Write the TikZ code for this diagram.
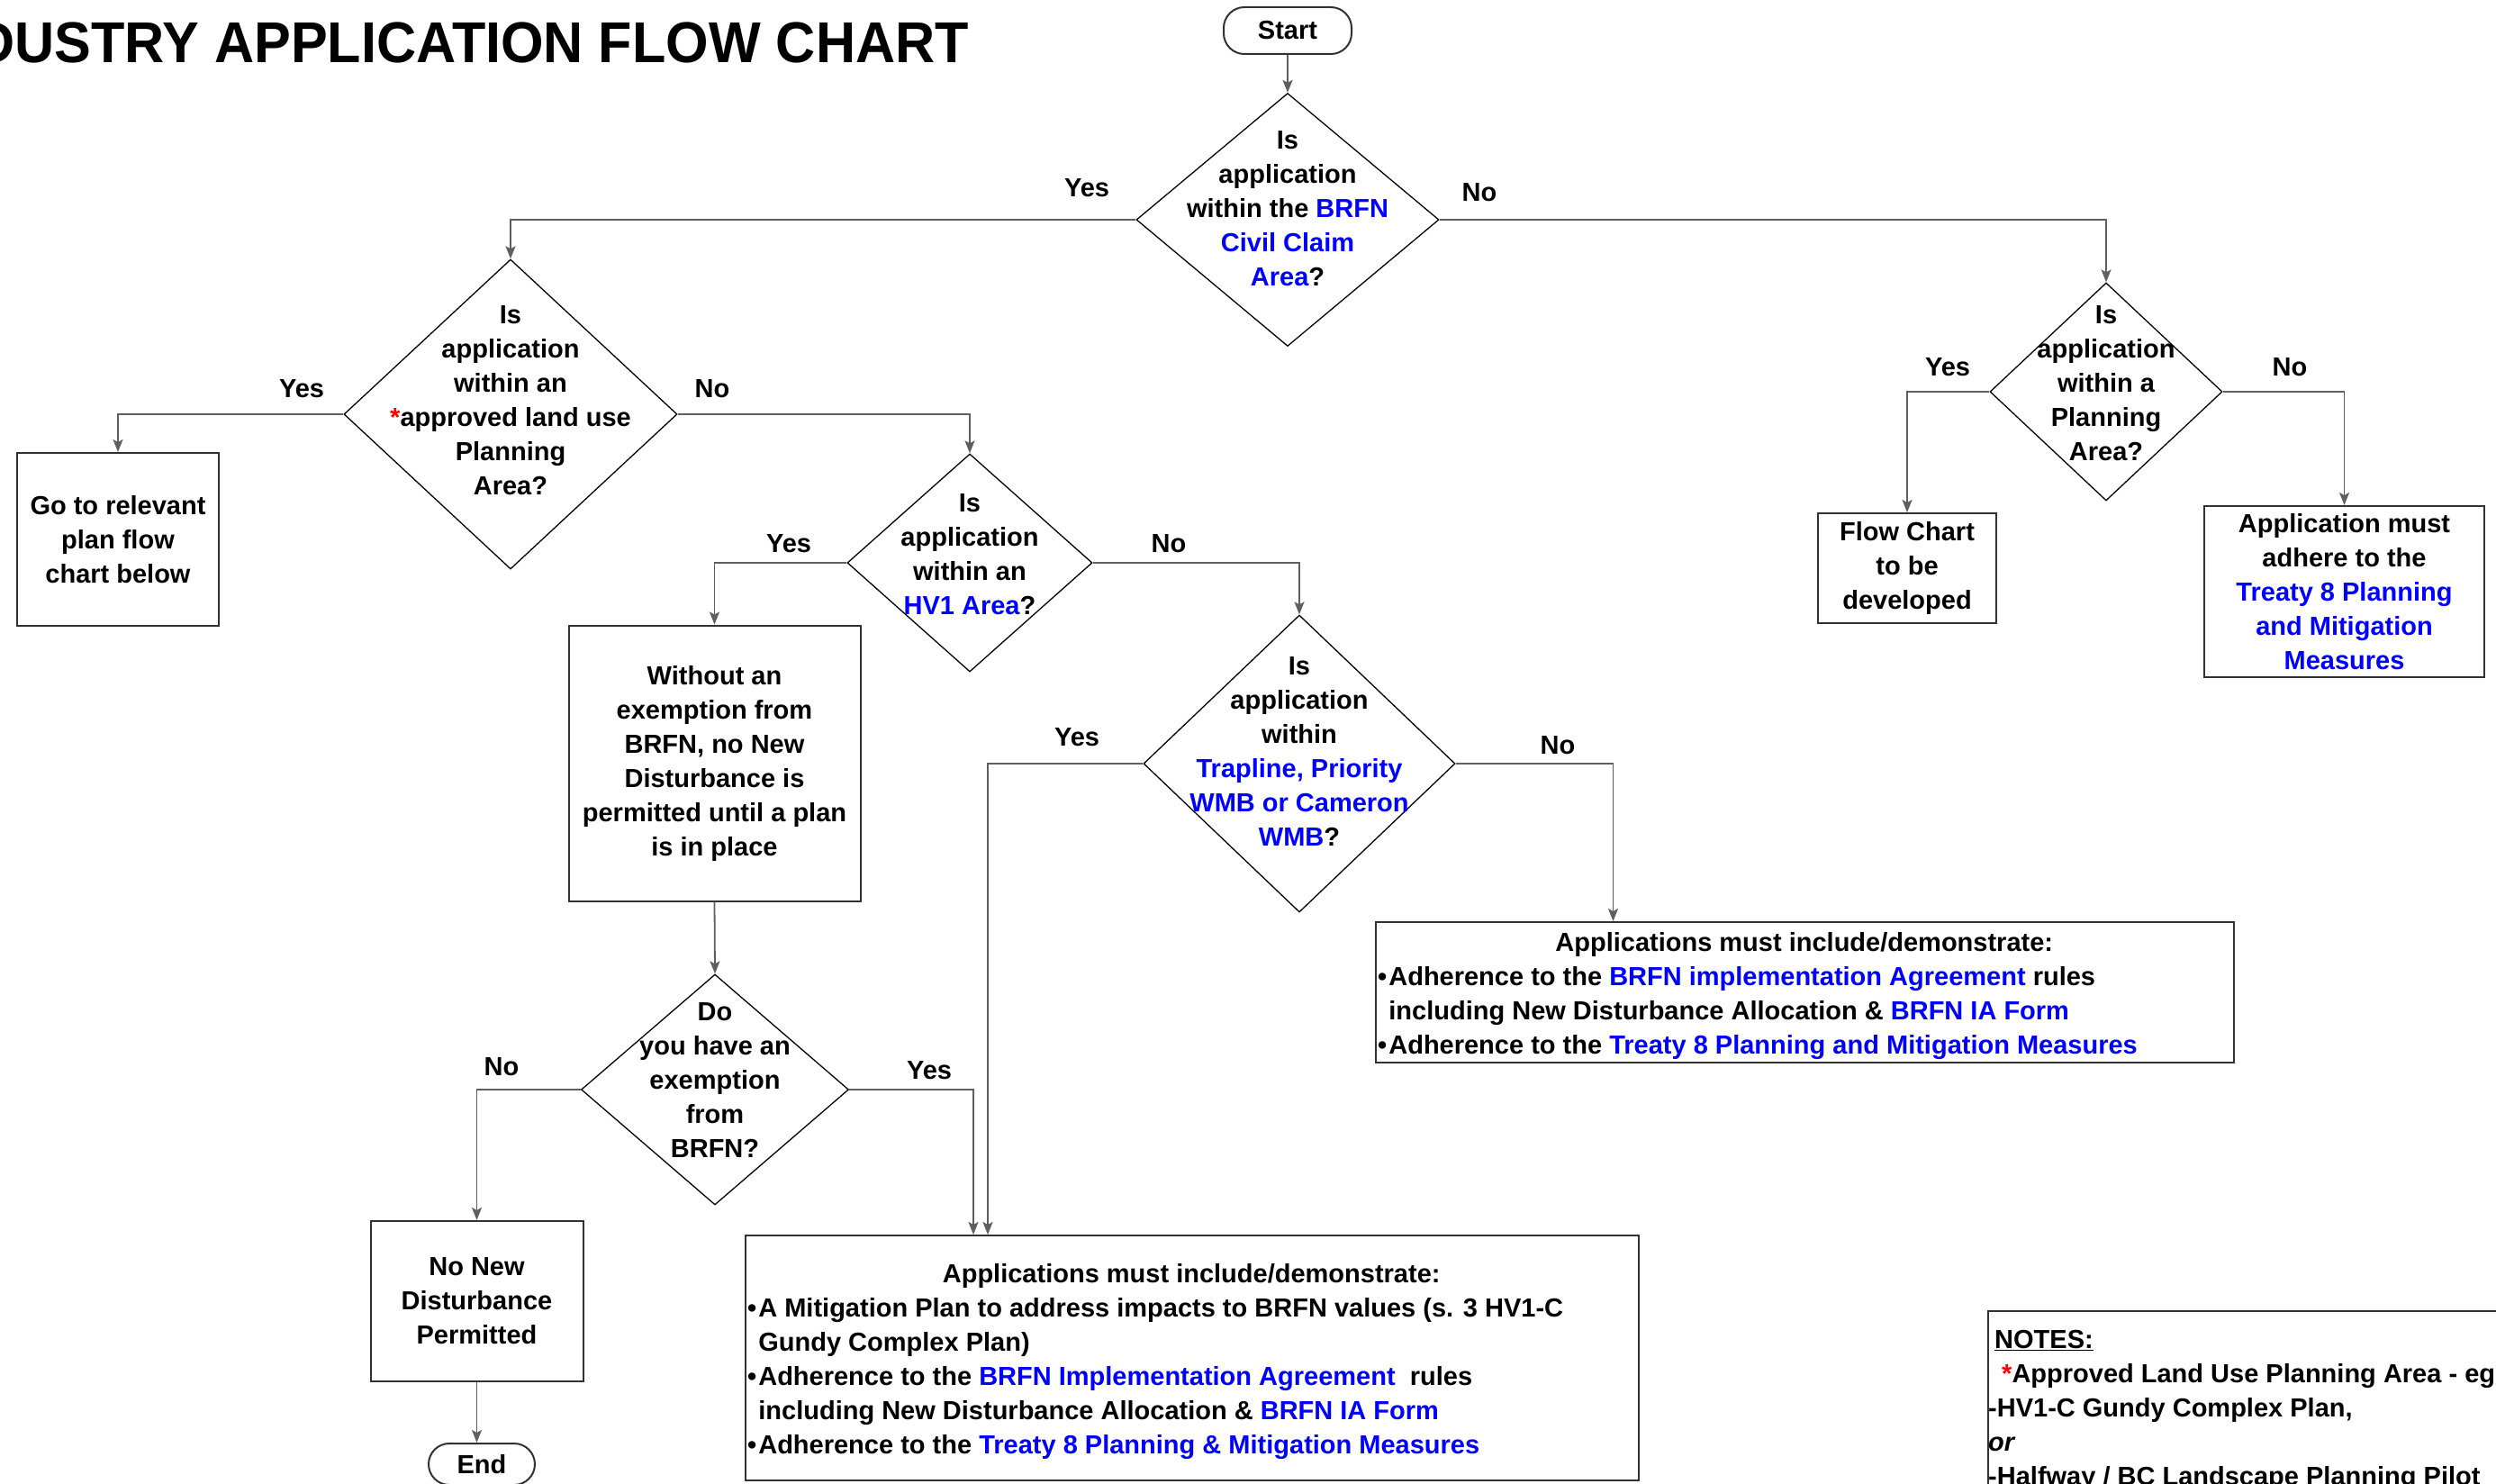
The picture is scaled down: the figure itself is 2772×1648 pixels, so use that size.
\documentclass[tikz,border=0pt]{standalone}
\usepackage{fontspec}
\setmainfont{Liberation Sans}
\usepackage{graphicx}
\usetikzlibrary{arrows.meta,shapes.geometric}
\definecolor{lnk}{RGB}{0,0,255}
\definecolor{ast}{RGB}{255,0,0}
\definecolor{conn}{RGB}{95,95,95}
\definecolor{frame}{RGB}{50,50,50}
\newcommand{\bl}[1]{\textcolor{lnk}{#1}}
\newcommand{\rs}{\textcolor{ast}{*}}
\newcommand{\bul}{\kern2pt•\kern2pt}
\newcommand{\nobul}{\hphantom{\kern2pt•\kern2pt}}
\begin{document}
\begin{tikzpicture}[x=1pt,y=-1pt,
  every node/.style={font=\bfseries\fontsize{29pt}{38pt}\selectfont},
  dia/.style={draw=black, line width=1.3pt, shape=diamond, inner sep=0pt},
  box/.style={draw=frame, line width=2pt, rectangle, inner sep=0pt, align=center},
  term/.style={draw=frame, line width=2pt, rectangle, rounded corners=23pt, inner sep=0pt},
  txt/.style={align=center, inner sep=0pt},
  lbl/.style={inner sep=0pt},
  arr/.style={draw=conn, line width=1.8pt, -{Stealth[length=14pt,width=11pt,inset=3pt]}},
]
\useasboundingbox (0,0) rectangle (2772,1648);

% title
\node[anchor=base east, inner sep=0pt, font=\bfseries\fontsize{64pt}{70pt}\selectfont] (title) at (1076,70)
  {\scalebox{0.955}[1]{INDUSTRY APPLICATION FLOW CHART}};

% terminals
\node[term, minimum width=142pt, minimum height=52pt] (start) at (1430,34) {Start};
\node[term, minimum width=118pt, minimum height=46pt] (end) at (535,1626) {End};

% diamonds
\node[dia, minimum width=336pt, minimum height=281pt] (d1) at (1430,244) {};
\node[txt] (d1t) at ([yshift=12pt]d1.center) {Is\\application\\within the \bl{BRFN}\\\bl{Civil Claim}\\\bl{Area}?};

\node[dia, minimum width=370pt, minimum height=344pt] (d2) at (567,460) {};
\node[txt] (d2t) at ([yshift=15pt]d2.center) {Is\\application\\within an\\\rs approved land use\\Planning\\Area?};

\node[dia, minimum width=272pt, minimum height=242pt] (d3) at (1077,625) {};
\node[txt] (d3t) at ([yshift=9pt]d3.center) {Is\\application\\within an\\\bl{HV1 Area}?};

\node[dia, minimum width=346pt, minimum height=330pt] (d4) at (1443,848) {};
\node[txt] (d4t) at ([yshift=13pt]d4.center) {Is\\application\\within\\\bl{Trapline, Priority}\\\bl{WMB or Cameron}\\\bl{WMB}?};

\node[dia, minimum width=258pt, minimum height=242pt] (d5) at (2339,435) {};
\node[txt] (d5t) at ([yshift=9pt]d5.center) {Is\\application\\within a\\Planning\\Area?};

\node[dia, minimum width=297pt, minimum height=256pt] (d6) at (794,1210) {};
\node[txt] (d6t) at ([yshift=10pt]d6.center) {Do\\you have an\\exemption\\from\\BRFN?};

% boxes
\node[box, minimum width=224pt, minimum height=192pt] (go) at (131,599) {Go to relevant\\plan flow\\chart below};
\node[box, minimum width=324pt, minimum height=306pt] (wo) at (793.5,847.5) {Without an\\exemption from\\BRFN, no New\\Disturbance is\\permitted until a plan\\is in place};
\node[box, minimum width=236pt, minimum height=178pt] (nnd) at (529.5,1445) {No New\\Disturbance\\Permitted};
\node[box, minimum width=198pt, minimum height=122pt] (fc) at (2118,631) {Flow Chart\\to be\\developed};
\node[box, minimum width=311pt, minimum height=190pt] (am) at (2603.5,657) {Application must\\adhere to the\\\bl{Treaty 8 Planning}\\\bl{and Mitigation}\\\bl{Measures}};

\node[box, minimum width=953pt, minimum height=156pt] (rm) at (2004.5,1102) {};
\node[txt, align=left, anchor=west] (rmt) at ([xshift=1pt,yshift=-4pt]rm.west)
  {\makebox[951pt][c]{Applications must include/demonstrate:}\\
   \bul Adherence to the \bl{BRFN implementation Agreement} rules\\
   \nobul including New Disturbance Allocation \& \bl{BRFN IA Form}\\
   \bul Adherence to the \bl{Treaty 8 Planning and Mitigation Measures}};

\node[box, minimum width=992pt, minimum height=272pt] (bot) at (1324,1508) {};
\node[txt, align=left, anchor=west] (bott) at ([xshift=1pt,yshift=-4pt]bot.west)
  {\makebox[990pt][c]{Applications must include/demonstrate:}\\
   \bul A Mitigation Plan to address impacts to BRFN values (s. 3 HV1-C\\
   \nobul Gundy Complex Plan)\\
   \bul Adherence to the \bl{BRFN Implementation Agreement}\ \ rules\\
   \nobul including New Disturbance Allocation \& \bl{BRFN IA Form}\\
   \bul Adherence to the \bl{Treaty 8 Planning \& Mitigation Measures}};

% notes
\node[box, anchor=north west, minimum width=700pt, minimum height=300pt] (notes) at (2207,1455) {};
\node[txt, align=left, anchor=north west] (notest) at (2208,1477)
  {\hspace*{7pt}\underline{NOTES:}\\
   \hspace*{15pt}\rs Approved Land Use Planning Area - eg\\
   -HV1-C Gundy Complex Plan,\\
   \textit{or}\\
   -Halfway / BC Landscape Planning Pilot};

% connectors
\draw[arr] (start.south) -- (d1.north);
\draw[arr] (d1.west) -| (d2.north);
\draw[arr] (d1.east) -| (d5.north);
\draw[arr] (d2.west) -| (go.north);
\draw[arr] (d2.east) -| (d3.north);
\draw[arr] (d3.west) -| (wo.north);
\draw[arr] (d3.east) -| (d4.north);
\coordinate (b4) at ([xshift=-227pt]bot.north);
\draw[arr] (d4.west) -| (b4);
\coordinate (r4) at ([xshift=-213pt]rm.north);
\draw[arr] (d4.east) -| (r4);
\draw[arr] (wo.south) -- (d6.north);
\draw[arr] (d6.west) -| (nnd.north);
\coordinate (b6) at ([xshift=-243pt]bot.north);
\draw[arr] (d6.east) -| (b6);
\draw[arr] (nnd.south) -- (nnd.south |- end.north);
\draw[arr] (d5.west) -| (fc.north);
\draw[arr] (d5.east) -| (am.north);

% labels
\node[lbl] (l1y) at (1207,209) {Yes};
\node[lbl] (l1n) at (1643,214) {No};
\node[lbl] (l2y) at (335,432) {Yes};
\node[lbl] (l2n) at (791,432) {No};
\node[lbl] (l3y) at (876,604) {Yes};
\node[lbl] (l3n) at (1298,604) {No};
\node[lbl] (l4y) at (1196,819) {Yes};
\node[lbl] (l4n) at (1730,828) {No};
\node[lbl] (l6n) at (557,1185) {No};
\node[lbl] (l6y) at (1032,1189) {Yes};
\node[lbl] (l5y) at (2163,408) {Yes};
\node[lbl] (l5n) at (2543,408) {No};
\end{tikzpicture}
\end{document}
